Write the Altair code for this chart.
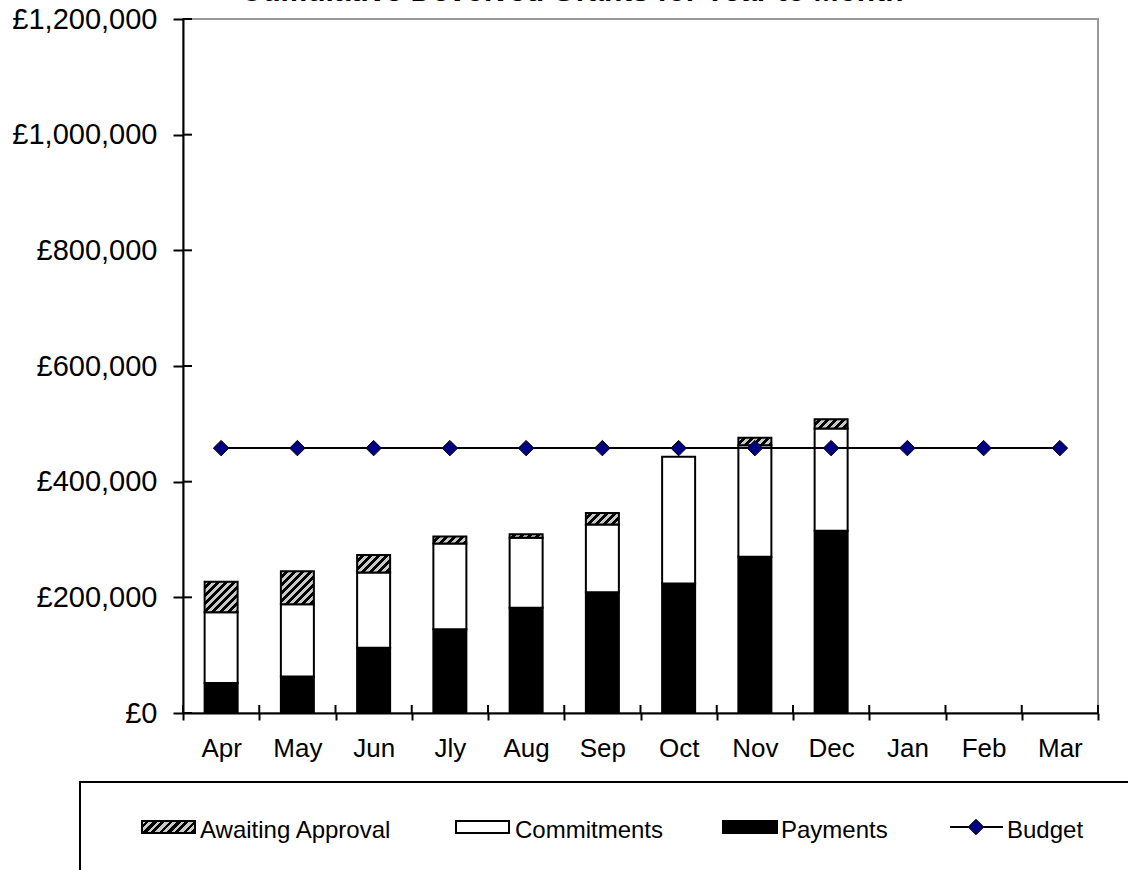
import altair as alt
import pandas as pd

# ---- data ----
months = ["Apr", "May", "Jun", "Jly", "Aug", "Sep", "Oct", "Nov", "Dec", "Jan", "Feb", "Mar"]
bar_months = ["Apr", "May", "Jun", "Jly", "Aug", "Sep", "Oct", "Nov", "Dec"]
payments = [52000, 63000, 113000, 145000, 182000, 209000, 224000, 270000, 315000]
commitments = [122000, 125000, 130000, 148000, 121000, 117000, 219000, 193000, 177000]
awaiting = [53000, 57000, 30000, 12000, 6000, 20000, 0, 13000, 16000]
budget = [458000, 458000, 458000, 458000, 458000, 458000,
          458000, 458000, 458000, 458000, 458000, 458000]
y_ticks = [0, 200000, 400000, 600000, 800000, 1000000, 1200000]
series = ["Awaiting Approval", "Commitments", "Payments", "Budget"]
title_text = "Cumulative Devolved Grants for Year to Month"

# ---- layout ----
W, H = 915, 694
Y_MAX = 1200000
BAR_W = 33
FONT = "Liberation Sans"
DIAMOND = 240

# hatch fill: hard-edged diagonal gradient stripes (light grey / black)
HATCH_LEN = 96
N_STRIPES = 12
GREY, BLACK = "#c8c8c8", "#000000"
stops = []
for i in range(N_STRIPES):
    a, b, c = i / N_STRIPES, (i + 0.5) / N_STRIPES, (i + 1) / N_STRIPES
    stops += [(a, GREY), (b, GREY), (b, BLACK), (c, BLACK)]
stops_expr = "[" + ",".join("{offset:%.5f,color:'%s'}" % s for s in stops) + "]"
stops_list = [{"offset": round(o, 5), "color": col} for o, col in stops]


def hatch_gradient(w, h):
    k = HATCH_LEN / (w * w + h * h)
    return {"gradient": "linear", "x1": 0, "y1": 0, "x2": k * w, "y2": k * h,
            "stops": stops_list}


hatch_expr = (
    "{gradient:'linear', x1:0, y1:0, "
    f"x2: {HATCH_LEN}*{BAR_W}/({BAR_W}*{BAR_W} + pow(datum.awaiting*{H}/{Y_MAX},2)), "
    f"y2: {HATCH_LEN}*(datum.awaiting*{H}/{Y_MAX})/({BAR_W}*{BAR_W} + pow(datum.awaiting*{H}/{Y_MAX},2)), "
    f"stops: {stops_expr}}}"
)

bars_df = pd.DataFrame({"month": bar_months, "payments": payments,
                        "commitments": commitments, "awaiting": awaiting})
budget_df = pd.DataFrame({"month": months, "budget": budget})
ytick_df = pd.DataFrame({"v": y_ticks})
xtick_df = pd.DataFrame({"month": months})
xend_df = pd.DataFrame({"month": months[-1:]})
one = pd.DataFrame({"k": [0]})

xscale = alt.Scale(domain=months, paddingInner=0, paddingOuter=0)
xaxis = alt.Axis(title=None, labelAngle=0, labelFont=FONT, labelFontSize=26,
                 labelColor="black", labelPadding=15, tickBand="extent",
                 tickSize=7, tickWidth=2, tickColor="black",
                 domainColor="black", domainWidth=2, grid=False)
yscale = alt.Scale(domain=[0, Y_MAX], nice=False, zero=True)
yaxis = alt.Axis(title=None, values=y_ticks,
                 labelExpr="'£' + format(datum.value, ',')",
                 labelFont=FONT, labelFontSize=29, labelColor="black",
                 labelPadding=16, tickSize=10, tickWidth=2, tickColor="black",
                 domainColor="black", domainWidth=2, grid=False)


def X(field, **kw):
    return alt.X(field + ":N", scale=xscale, axis=xaxis, **kw)


def Y(field):
    return alt.Y(field + ":Q", scale=yscale, axis=yaxis)


# ---- stacked bars ----
pay = alt.Chart(bars_df).mark_bar(
    fill="black", stroke="black", strokeWidth=2, width=BAR_W
).encode(x=X("month"), y=Y("payments"))

com = alt.Chart(bars_df).transform_calculate(
    c0="datum.payments", c1="datum.payments + datum.commitments"
).mark_bar(fill="white", stroke="black", strokeWidth=2, width=BAR_W).encode(
    x=X("month"), y=Y("c1"), y2=alt.Y2("c0"))

aw = alt.Chart(bars_df).transform_filter("datum.awaiting > 0").transform_calculate(
    a0="datum.payments + datum.commitments",
    a1="datum.payments + datum.commitments + datum.awaiting",
    hatch=hatch_expr,
).mark_bar(stroke="black", strokeWidth=2, width=BAR_W).encode(
    x=X("month"), y=Y("a1"), y2=alt.Y2("a0"),
    fill=alt.Fill("hatch:N", scale=None))

# ---- budget line ----
bline = alt.Chart(budget_df).mark_line(color="black", strokeWidth=2).encode(
    x=X("month"), y=Y("budget"))
bpts = alt.Chart(budget_df).mark_point(
    shape="diamond", filled=True, fill="#000080", stroke="black",
    strokeWidth=1, size=DIAMOND, opacity=1
).encode(x=X("month"), y=Y("budget"))

# ---- inner halves of the crossing tick marks ----
ytick_in = alt.Chart(ytick_df).mark_rule(color="black", strokeWidth=2).encode(
    y=Y("v"), x=alt.value(0), x2=alt.value(9))
xtick_in = alt.Chart(xtick_df).mark_rule(color="black", strokeWidth=2).encode(
    x=X("month", bandPosition=0), y=alt.value(H - 8), y2=alt.value(H))
xend_in = alt.Chart(xend_df).mark_rule(color="black", strokeWidth=2).encode(
    x=X("month", bandPosition=1), y=alt.value(H - 8), y2=alt.value(H))

# ---- legend ----
LEG_Y = 808
legend_box = alt.Chart(one).mark_rect(fill="white", stroke="black", strokeWidth=2).encode(
    x=alt.value(-103), x2=alt.value(W + 80), y=alt.value(763), y2=alt.value(H + 200))


def swatch(x0, x1, fill):
    return alt.Chart(one).mark_rect(fill=fill, stroke="black", strokeWidth=2).encode(
        x=alt.value(x0), x2=alt.value(x1),
        y=alt.value(LEG_Y - 6), y2=alt.value(LEG_Y + 6))


def label(x0, text):
    return alt.Chart(one).mark_text(
        text=text, align="left", baseline="alphabetic", font=FONT,
        fontSize=24, color="black"
    ).encode(x=alt.value(x0), y=alt.value(LEG_Y + 11))


sw_aw = swatch(-41, 12, hatch_gradient(53, 12))
sw_com = swatch(273, 326, "white")
sw_pay = swatch(540, 594, "black")
leg_line = alt.Chart(one).mark_rule(color="black", strokeWidth=2).encode(
    x=alt.value(767), x2=alt.value(820), y=alt.value(LEG_Y))
leg_pt = alt.Chart(one).mark_point(
    shape="diamond", filled=True, fill="#000080", stroke="black",
    strokeWidth=1, size=DIAMOND, opacity=1
).encode(x=alt.value(793), y=alt.value(LEG_Y))

labels = [label(17, series[0]), label(332, series[1]),
          label(598, series[2]), label(824, series[3])]

# ---- title (runs off the top edge, only its foot shows) ----
title = alt.Chart(one).mark_text(
    text=title_text, align="center", baseline="alphabetic", font=FONT,
    fontSize=30, fontWeight="bold", color="black"
).encode(x=alt.value(389), y=alt.value(-18.5))

chart = alt.layer(
    pay, com, aw, bline, bpts, ytick_in, xtick_in, xend_in,
    legend_box, sw_aw, sw_com, sw_pay, leg_line, leg_pt, *labels, title
).properties(
    width=W, height=H,
    padding={"left": 183, "top": 19, "right": 30, "bottom": 157},
    autosize=alt.AutoSizeParams(type="none"),
    background="white",
).configure_view(stroke="#999999", strokeWidth=2)

chart.save("out.html", embed_options={"renderer": "svg", "actions": False})
